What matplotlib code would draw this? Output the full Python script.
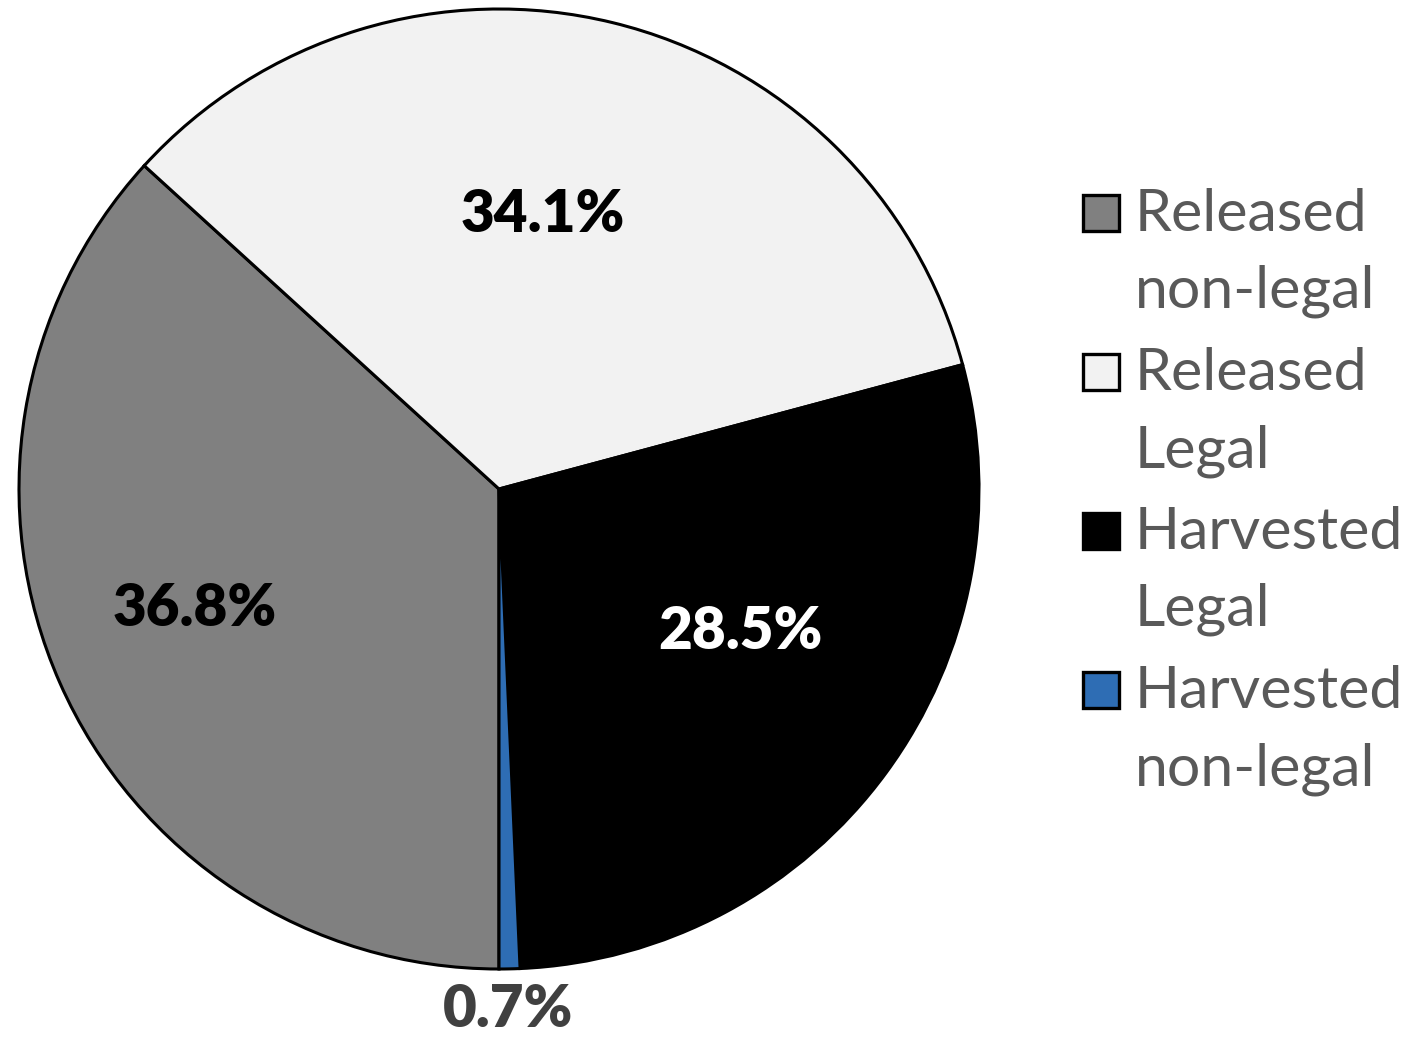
import matplotlib
matplotlib.use("Agg")
import matplotlib.pyplot as plt
from matplotlib.patches import Rectangle
import numpy as np

labels = ["Released\nnon-legal", "Released\nLegal", "Harvested\nLegal", "Harvested\nnon-legal"]
values = [36.8, 34.1, 28.5, 0.7]
pct_labels = ["36.8%", "34.1%", "28.5%", "0.7%"]
colors = ["#808080", "#F2F2F2", "#000000", "#2E6DB4"]
label_colors = ["#000000", "#000000", "#FFFFFF", "#404040"]
# label placement (radius fraction, angle deg) - layout only
label_r = [0.68, 0.58, 0.585, 1.085]
label_ang = [201.4, 80.9, -30.6, -89.0]

W, H = 1424, 1040
fig = plt.figure(figsize=(W / 100, H / 100), dpi=100)
cx, cy, R = 499, 489, 480
ax = fig.add_axes([(cx - R) / W, (H - cy - R) / H, 2 * R / W, 2 * R / H])
wedges, _ = ax.pie(values, colors=colors, startangle=-90, counterclock=False,
                   wedgeprops=dict(edgecolor="black", linewidth=2.2))
ax.set_xlim(-1, 1)
ax.set_ylim(-1, 1)
ax.set_aspect("equal")
ax.axis("off")

for t, c, r, a in zip(pct_labels, label_colors, label_r, label_ang):
    ax.text(r * np.cos(np.radians(a)), r * np.sin(np.radians(a)), t,
            ha="center", va="center", fontsize=42, fontweight="heavy",
            color=c, family="Lato", clip_on=False)

# legend
for i, (lab, col) in enumerate(zip(labels, colors)):
    base = 231 + 159 * i
    fig.patches.append(Rectangle((1083 / W, (H - base) / H), 36 / W, 36 / H,
                                 transform=fig.transFigure, facecolor=col,
                                 edgecolor="black", linewidth=2.4))
    for j, line in enumerate(lab.split("\n")):
        fig.text(1135 / W, (H - (base + 77 * j)) / H, line, ha="left",
                 va="baseline", fontsize=42.5, color="#595959", family="Lato")

fig.savefig("out.png", dpi=100)
